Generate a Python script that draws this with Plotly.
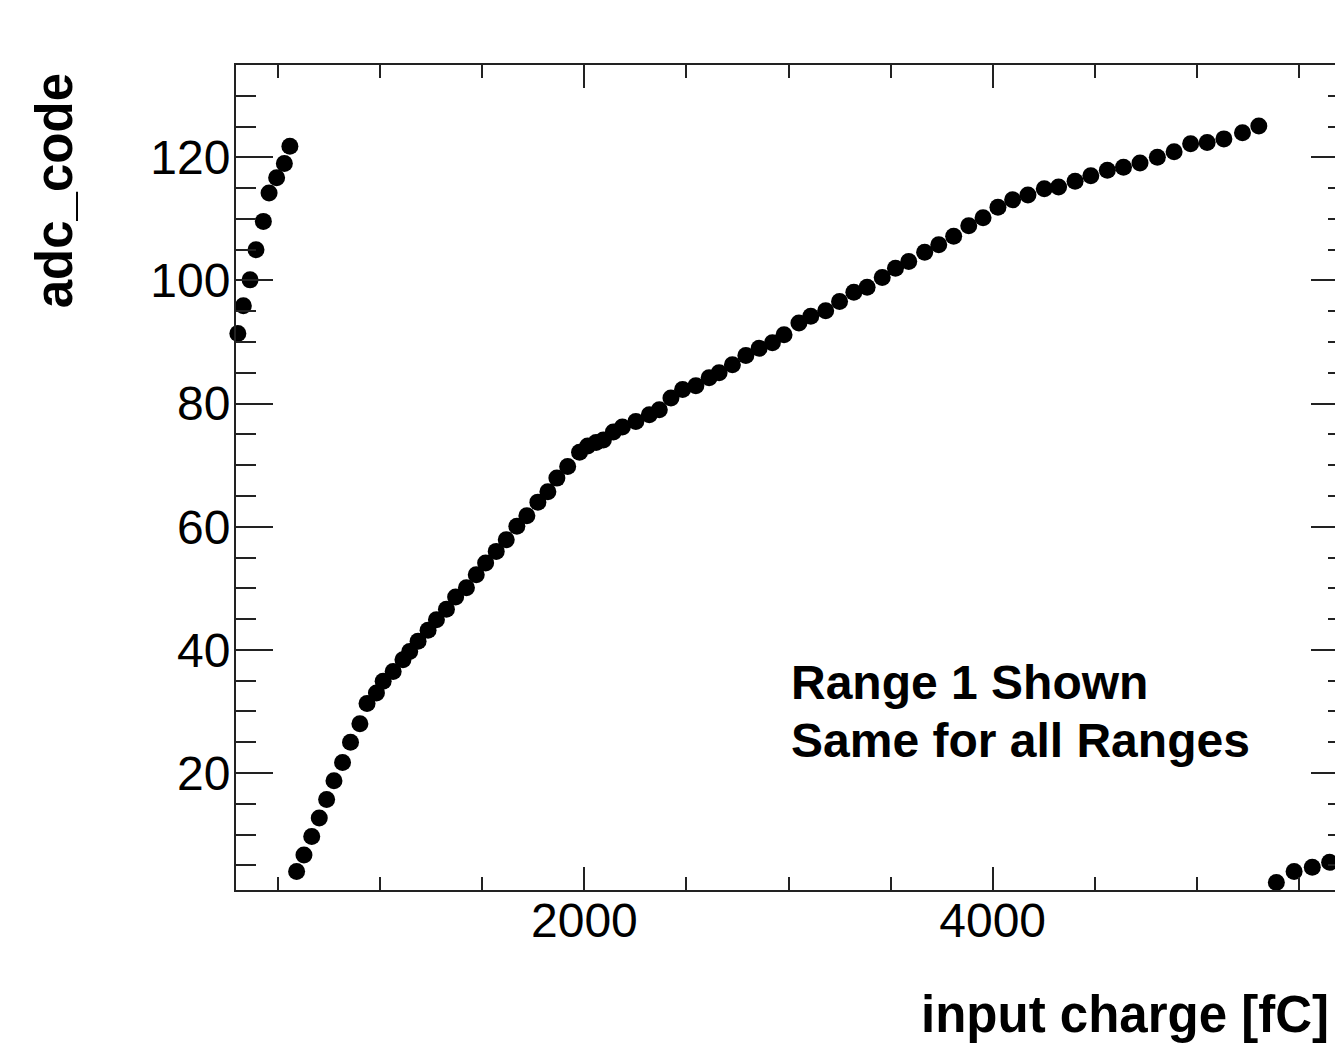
import plotly.graph_objects as go

# Segment 1 (end of previous range, top left)
seg1_charge = [302, 329, 362, 391, 427, 455, 492, 530, 557]
seg1_adc = [91.4, 95.9, 100.1, 105.0, 109.6, 114.2, 116.7, 119.0, 121.8]

# Segment 2 (main range)
seg2_charge = [590, 626, 664, 701, 737, 773, 815, 854, 900, 935,
               981, 1014, 1063, 1111, 1144, 1185, 1234, 1275, 1324, 1369,
               1422, 1470, 1516, 1568, 1617, 1669, 1718, 1772, 1821, 1865,
               1918, 1976, 2016, 2057, 2093, 2142, 2186, 2252, 2318, 2367,
               2424, 2481, 2546, 2611, 2660, 2725, 2791, 2856, 2921, 2978,
               3051, 3109, 3182, 3250, 3320, 3385, 3459, 3524, 3589, 3667,
               3736, 3809, 3883, 3953, 4026, 4098, 4173, 4253, 4323, 4404,
               4481, 4562, 4641, 4722, 4807, 4889, 4970, 5051, 5133, 5224,
               5304]
seg2_adc = [4.0, 6.7, 9.7, 12.7, 15.7, 18.75, 21.7, 25.0, 28.0, 31.3,
            33.0, 34.9, 36.5, 38.4, 39.75, 41.4, 43.2, 44.9, 46.6, 48.6,
            50.1, 52.2, 54.1, 56.0, 57.9, 60.1, 61.8, 64.0, 65.7, 67.9,
            69.8, 72.1, 73.1, 73.7, 74.1, 75.4, 76.2, 77.1, 78.2, 79.0,
            80.9, 82.3, 82.9, 84.2, 85.0, 86.3, 87.8, 89.0, 89.9, 91.2,
            93.1, 94.2, 95.1, 96.6, 98.1, 98.9, 100.5, 102.0, 103.1, 104.6,
            105.8, 107.2, 108.9, 110.2, 111.9, 113.1, 113.9, 114.9, 115.2, 116.1,
            117.0, 117.9, 118.4, 119.1, 120.0, 120.9, 122.2, 122.4, 123.0, 124.0,
            125.1]

# Segment 3 (start of next range, bottom right)
seg3_charge = [5390, 5477, 5566, 5651]
seg3_adc = [2.2, 4.0, 4.7, 5.5]

x_title = "input charge [fC]"
y_title = "adc_code"
note_lines = ["Range 1 Shown", "Same for all Ranges"]

charge = seg1_charge + seg2_charge + seg3_charge
adc = seg1_adc + seg2_adc + seg3_adc

FONT = "Liberation Sans, Arial, Helvetica, sans-serif"
AX = "#222222"

fig = go.Figure()
fig.add_trace(go.Scatter(
    x=charge, y=adc, mode="markers",
    marker=dict(color="black", size=17, line=dict(width=0)),
    cliponaxis=False, showlegend=False,
))

fig.update_layout(
    width=1352, height=1043,
    margin=dict(l=236, r=2, t=65, b=153),
    paper_bgcolor="white", plot_bgcolor="white",
    font=dict(family=FONT, color="black"),
    showlegend=False,
)
fig.update_xaxes(
    range=[293, 5741], showgrid=False, zeroline=False,
    showline=True, linecolor=AX, linewidth=2, mirror="ticks",
    ticks="inside", ticklen=23, tickwidth=2, tickcolor=AX,
    tick0=0, dtick=2000, ticklabelstandoff=-13,
    minor=dict(ticks="inside", ticklen=13, tickwidth=2, tickcolor=AX, dtick=500, showgrid=False),
    tickfont=dict(size=48, family=FONT, color="black"),
)
fig.update_yaxes(
    range=[1, 135], showgrid=False, zeroline=False,
    showline=True, linecolor=AX, linewidth=2, mirror="ticks",
    ticks="inside", ticklen=37, tickwidth=2, tickcolor=AX,
    tick0=0, dtick=20, ticklabelstandoff=-6,
    minor=dict(ticks="inside", ticklen=20, tickwidth=2, tickcolor=AX, dtick=5, showgrid=False),
    tickfont=dict(size=48, family=FONT, color="black"),
)

fig.add_annotation(text="<b>%s</b>" % x_title, xref="paper", yref="paper",
                   x=0.9847, y=-0.1515, xanchor="right", yanchor="middle",
                   showarrow=False, font=dict(size=51, family=FONT, color="black"))
fig.add_annotation(text="<b>%s</b>" % y_title, xref="paper", yref="paper",
                   x=-0.1625, y=0.8473, xanchor="center", yanchor="middle", textangle=-90,
                   showarrow=False, font=dict(size=51, family=FONT, color="black"))
fig.add_annotation(text="<b>%s</b>" % note_lines[0], xref="paper", yref="paper",
                   x=0.4973, y=0.2521, xanchor="left", yanchor="middle",
                   showarrow=False, font=dict(size=48, family=FONT, color="black"))
fig.add_annotation(text="<b>%s</b>" % note_lines[1], xref="paper", yref="paper",
                   x=0.4973, y=0.1818, xanchor="left", yanchor="middle",
                   showarrow=False, font=dict(size=48, family=FONT, color="black"))

fig.write_html("out.html", config={"displayModeBar": False},
               post_script="document.body.style.margin='0';document.body.style.overflow='hidden';document.documentElement.style.overflow='hidden';")
